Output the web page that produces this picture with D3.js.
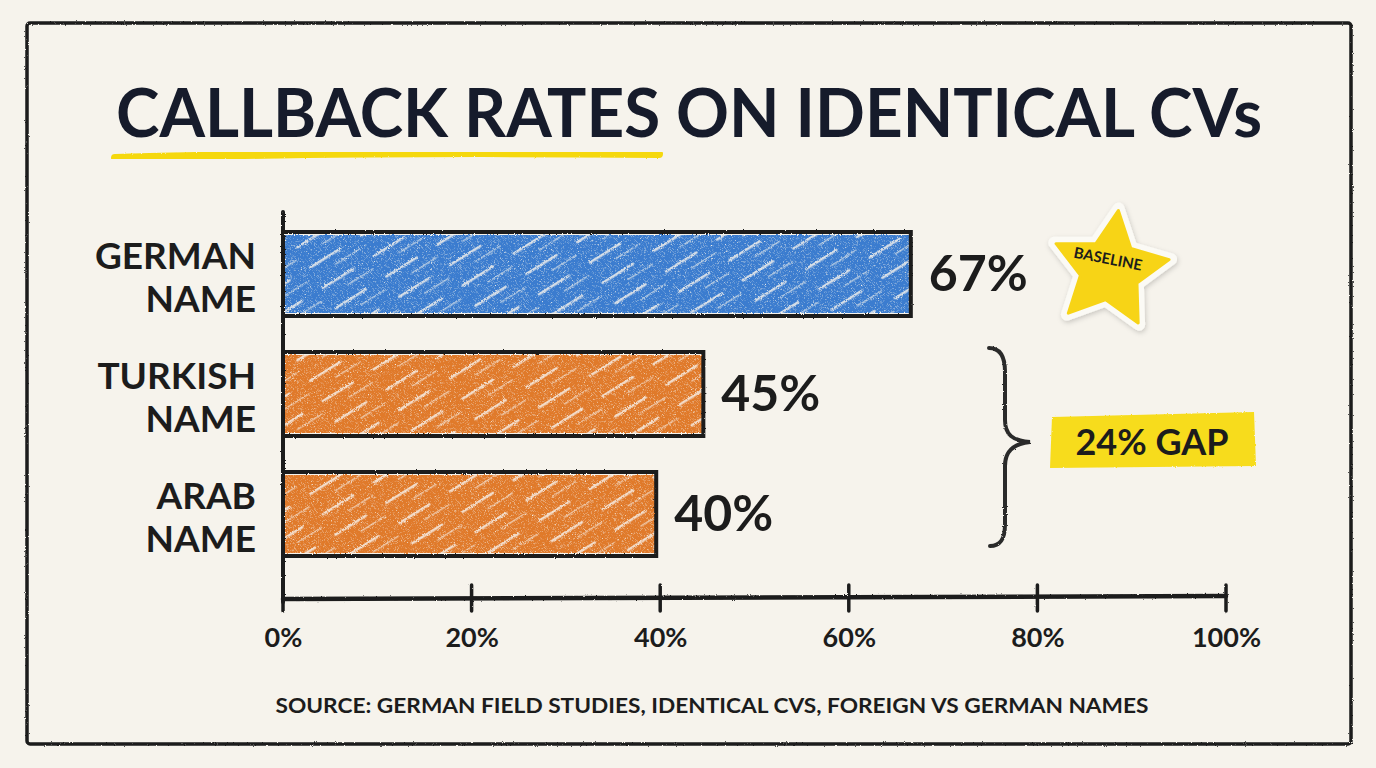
<!DOCTYPE html>
<html>
<head>
<meta charset="utf-8">
<script src="https://cdn.jsdelivr.net/npm/d3@7"></script>
<style>
  html, body { margin: 0; padding: 0; background: #f6f3ec; }
  svg { display: block; }
  text { font-family: "Lato", "Open Sans", sans-serif; font-weight: 700; }
</style>
</head>
<body>
<svg id="chart" width="1376" height="768"></svg>
<script>
// ---- data ----
const categories = ["GERMAN NAME", "TURKISH NAME", "ARAB NAME"];
const values = [67, 45, 40];
const groups = ["baseline", "foreign", "foreign"];
const tickValues = [0, 20, 40, 60, 80, 100];
const tickLabels = ["0%", "20%", "40%", "60%", "80%", "100%"];
const titleText = "CALLBACK RATES ON IDENTICAL CVs";
const sourceText = "SOURCE: GERMAN FIELD STUDIES, IDENTICAL CVS, FOREIGN VS GERMAN NAMES";
const badgeText = "BASELINE";
const gapText = "24% GAP";

// ---- setup ----
const W = 1376, H = 768;
const ink = "#1c1c1c";
const navy = "#161b2b";
const colour = { baseline: "#3a7ccf", foreign: "#e07a2c" };
const svg = d3.select("#chart");

const defs = svg.append("defs");
// rough-edge filter
const rough = defs.append("filter").attr("id", "rough").attr("x", "-5%").attr("y", "-5%").attr("width", "110%").attr("height", "110%");
rough.append("feTurbulence").attr("type", "fractalNoise").attr("baseFrequency", 0.9).attr("numOctaves", 2).attr("result", "n");
rough.append("feDisplacementMap").attr("in", "SourceGraphic").attr("in2", "n").attr("scale", 2.2);

// crayon texture filter for fills
const crayon = defs.append("filter").attr("id", "crayon").attr("x", "-2%").attr("y", "-5%").attr("width", "104%").attr("height", "110%");
crayon.append("feTurbulence").attr("type", "fractalNoise").attr("baseFrequency", 0.7).attr("numOctaves", 2).attr("result", "noise");
crayon.append("feColorMatrix").attr("in", "noise").attr("type", "matrix")
  .attr("values", "0 0 0 0 0  0 0 0 0 0  0 0 0 0 0  0 0 0 -3 2.6").attr("result", "mask");
crayon.append("feComposite").attr("in", "SourceGraphic").attr("in2", "mask").attr("operator", "in").attr("result", "tex");
crayon.append("feDisplacementMap").attr("in", "tex").attr("in2", "noise").attr("scale", 3);

// hatch patterns
Object.entries(colour).forEach(([k, c]) => {
  const p = defs.append("pattern").attr("id", "hatch-" + k)
    .attr("patternUnits", "userSpaceOnUse").attr("width", 60).attr("height", 24)
    .attr("patternTransform", "rotate(-32)");
  p.append("rect").attr("width", 60).attr("height", 24).attr("fill", c);
  p.append("rect").attr("x", 0).attr("y", 6).attr("width", 38).attr("height", 2.6).attr("rx", 1.3).attr("fill", "#f6f3ec").attr("opacity", 0.8);
  p.append("rect").attr("x", 24).attr("y", 17).attr("width", 30).attr("height", 1.6).attr("rx", 0.8).attr("fill", "#f6f3ec").attr("opacity", 0.6);
});

// shadow for sticker
const sh = defs.append("filter").attr("id", "shadow").attr("x", "-30%").attr("y", "-30%").attr("width", "160%").attr("height", "160%");
sh.append("feDropShadow").attr("dx", 1).attr("dy", 2).attr("stdDeviation", 2.5).attr("flood-color", "#000").attr("flood-opacity", 0.18);

// background
svg.append("rect").attr("width", W).attr("height", H).attr("fill", "#f6f3ec");

// frame
svg.append("rect").attr("x", 27).attr("y", 23).attr("width", 1324).attr("height", 721)
  .attr("rx", 3).attr("fill", "none").attr("stroke", ink).attr("stroke-width", 3.5).attr("filter", "url(#rough)");

// title underline
svg.append("path")
  .attr("d", "M115,158 C250,154 450,152 659,154")
  .attr("fill", "none").attr("stroke", "#f5d80c").attr("stroke-width", 8).attr("stroke-linecap", "round")
  .attr("filter", "url(#rough)");

// title
svg.append("text").attr("x", 689).attr("y", 137).attr("text-anchor", "middle")
  .attr("font-size", 66).attr("fill", navy).attr("textLength", 1146).attr("lengthAdjust", "spacingAndGlyphs")
  .attr("font-weight", 900)
  .text(titleText);

// scales
const x = d3.scaleLinear().domain([0, 100]).range([283, 1226]);
const y = d3.scaleBand().domain(categories).range([214, 574]).paddingInner(0.3).paddingOuter(0.15);

// bars
const bars = svg.append("g");
bars.selectAll("rect.fill").data(categories).join("rect")
  .attr("class", "fill")
  .attr("x", x(0) + 2).attr("y", d => y(d) + 3)
  .attr("width", (d, i) => x(values[i]) - x(0) - 6).attr("height", y.bandwidth() - 6)
  .attr("fill", (d, i) => "url(#hatch-" + groups[i] + ")")
  .attr("filter", "url(#crayon)");
bars.selectAll("rect.out").data(categories).join("rect")
  .attr("class", "out")
  .attr("x", x(0)).attr("y", d => y(d))
  .attr("width", (d, i) => x(values[i]) - x(0) - 4).attr("height", y.bandwidth())
  .attr("fill", "none").attr("stroke", ink).attr("stroke-width", 4)
  .attr("filter", "url(#rough)");

// value labels
svg.append("g").selectAll("text").data(categories).join("text")
  .attr("x", (d, i) => x(values[i]) + 14)
  .attr("y", d => y(d) + y.bandwidth() / 2 + 17)
  .attr("font-size", 50).attr("fill", ink)
  .text((d, i) => values[i] + "%");

// category labels (one text per line)
const catLines = [];
categories.forEach(c => c.split(" ").forEach((w, j) => catLines.push({ c, w, j })));
svg.append("g").selectAll("text").data(catLines).join("text")
  .attr("text-anchor", "end").attr("font-size", 37).attr("fill", ink)
  .attr("x", 256)
  .attr("y", d => y(d.c) + y.bandwidth() / 2 - 5 + d.j * 43)
  .text(d => d.w);

// axes
const axisG = svg.append("g").attr("filter", "url(#rough)");
axisG.append("line").attr("x1", x(0)).attr("x2", x(0)).attr("y1", 212).attr("y2", 602)
  .attr("stroke", ink).attr("stroke-width", 4).attr("stroke-linecap", "round");
const xAxis = d3.axisBottom(x).tickValues(tickValues).tickSize(0).tickFormat((d, i) => tickLabels[i]);
const xa = svg.append("g").attr("transform", "translate(0,598)").call(xAxis);
xa.select(".domain").remove();
xa.selectAll("text").attr("dy", 0).attr("y", 49).attr("font-size", 27).attr("fill", ink)
  .attr("font-family", "Lato, sans-serif").attr("font-weight", 700);
axisG.append("path").attr("d", `M${x(0)},599 L${x(100)},596`)
  .attr("stroke", ink).attr("stroke-width", 4.5).attr("fill", "none").attr("stroke-linecap", "round");
axisG.selectAll("line.tick").data(tickValues).join("line").attr("class", "tick")
  .attr("x1", d => x(d)).attr("x2", d => x(d)).attr("y1", 585).attr("y2", 611)
  .attr("stroke", ink).attr("stroke-width", 3.5).attr("stroke-linecap", "round");

// source
svg.append("text").attr("x", 712).attr("y", 713).attr("text-anchor", "middle")
  .attr("font-size", 20).attr("fill", ink).attr("textLength", 873).attr("lengthAdjust", "spacingAndGlyphs")
  .text(sourceText);

// star sticker
function starPath(cx, cy, R, r, rot) {
  const pts = [];
  for (let i = 0; i < 10; i++) {
    const a = (rot - 90 + i * 36) * Math.PI / 180;
    const rr = i % 2 === 0 ? R : r;
    pts.push([cx + rr * Math.cos(a), cy + rr * Math.sin(a)]);
  }
  return d3.line()(pts) + "Z";
}
const star = svg.append("g").attr("filter", "url(#shadow)");
star.append("path").attr("d", starPath(1110, 270, 62, 31, 8))
  .attr("fill", "#fbfaf5").attr("stroke", "#fbfaf5").attr("stroke-width", 12).attr("stroke-linejoin", "round");
star.append("path").attr("d", starPath(1110, 270, 60, 30, 8))
  .attr("fill", "#f7d417").attr("stroke", "#f7d417").attr("stroke-width", 3).attr("stroke-linejoin", "round");
svg.append("text").attr("transform", "translate(1107,264) rotate(11)").attr("text-anchor", "middle")
  .attr("font-size", 15).attr("fill", ink).text(badgeText);

// brace
svg.append("path")
  .attr("d", "M989,348 C1000,348 1005,356 1005,372 L1005,420 C1005,434 1012,441 1030,442 C1012,444 1005,452 1005,466 L1005,524 C1005,540 1000,546 990,546")
  .attr("fill", "none").attr("stroke", "#2a2a2a").attr("stroke-width", 4).attr("stroke-linecap", "round")
  .attr("filter", "url(#rough)");

// gap highlight
svg.append("path")
  .attr("d", "M1052,417 L1254,412 L1256,466 L1050,468 Z")
  .attr("fill", "#f7dc1c").attr("filter", "url(#rough)");
svg.append("text").attr("x", 1152).attr("y", 455).attr("text-anchor", "middle")
  .attr("font-size", 36).attr("fill", ink).text(gapText);
</script>
</body>
</html>
